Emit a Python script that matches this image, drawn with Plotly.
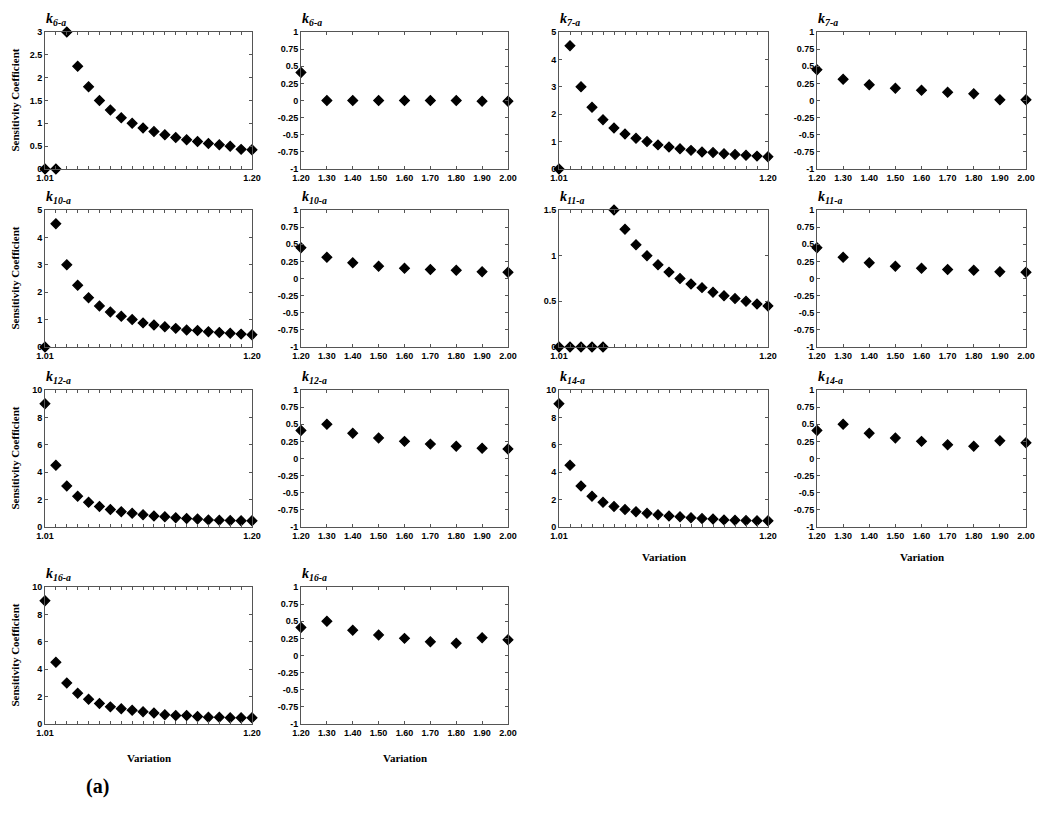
import plotly.graph_objects as go

W, H = 1050, 816
OFF = 8  # page body margin offset

x_left = [1.01, 1.02, 1.03, 1.04, 1.05, 1.06, 1.07, 1.08, 1.09, 1.10,
          1.11, 1.12, 1.13, 1.14, 1.15, 1.16, 1.17, 1.18, 1.19, 1.20]
x_right = [1.2, 1.3, 1.4, 1.5, 1.6, 1.7, 1.8, 1.9, 2.0]

k6_left = [0, 0, 3.0, 2.25, 1.8, 1.5, 1.29, 1.12, 1.0, 0.9,
           0.82, 0.75, 0.69, 0.64, 0.6, 0.56, 0.53, 0.5, 0.43, 0.42]
k6_right = [0.41, 0, 0, 0, 0, 0, 0, -0.01, -0.01]
k7_left = [0, 4.5, 3.0, 2.25, 1.8, 1.5, 1.28, 1.12, 1.0, 0.88,
           0.8, 0.74, 0.68, 0.62, 0.6, 0.56, 0.53, 0.5, 0.47, 0.45]
k7_right = [0.45, 0.31, 0.23, 0.18, 0.15, 0.12, 0.1, 0.01, 0.01]
k10_left = [0, 4.5, 3.0, 2.25, 1.8, 1.5, 1.28, 1.12, 1.0, 0.88,
            0.8, 0.74, 0.68, 0.62, 0.6, 0.56, 0.53, 0.5, 0.47, 0.45]
k10_right = [0.45, 0.31, 0.23, 0.18, 0.15, 0.13, 0.12, 0.1, 0.09]
k11_left = [0, 0, 0, 0, 0, 1.5, 1.29, 1.12, 1.0, 0.9,
            0.82, 0.75, 0.69, 0.65, 0.6, 0.56, 0.53, 0.5, 0.47, 0.45]
k11_right = [0.45, 0.31, 0.23, 0.18, 0.15, 0.13, 0.12, 0.1, 0.09]
k12_left = [9.0, 4.5, 3.0, 2.25, 1.8, 1.5, 1.28, 1.12, 1.0, 0.9,
            0.8, 0.75, 0.68, 0.62, 0.58, 0.52, 0.5, 0.47, 0.45, 0.45]
k12_right = [0.41, 0.5, 0.37, 0.3, 0.25, 0.21, 0.18, 0.15, 0.14]
k14_left = [9.0, 4.5, 3.0, 2.25, 1.8, 1.5, 1.28, 1.12, 1.0, 0.9,
            0.8, 0.75, 0.68, 0.62, 0.58, 0.52, 0.5, 0.47, 0.45, 0.45]
k14_right = [0.41, 0.5, 0.37, 0.3, 0.25, 0.2, 0.18, 0.26, 0.23]
k16_left = [9.0, 4.5, 3.0, 2.25, 1.8, 1.5, 1.25, 1.12, 1.0, 0.9,
            0.8, 0.68, 0.62, 0.62, 0.55, 0.5, 0.5, 0.45, 0.45, 0.45]
k16_right = [0.41, 0.5, 0.37, 0.3, 0.25, 0.2, 0.18, 0.26, 0.23]

panel_names = ["6", "6", "7", "7", "10", "10", "11", "11",
               "12", "12", "14", "14", "16", "16"]
panel_data = [k6_left, k6_right, k7_left, k7_right, k10_left, k10_right,
              k11_left, k11_right, k12_left, k12_right, k14_left, k14_right,
              k16_left, k16_right]
left_ranges = {"6": (3, 0.5), "7": (5, 1), "10": (5, 1), "11": (1.5, 0.5),
               "12": (10, 2), "14": (10, 2), "16": (10, 2)}

col_px = [(45, 252), (301, 508), (559, 768), (817, 1026)]
row_px = [(32, 169), (210, 347), (390, 527), (587, 724)]


def px_x(p):
    return (p - OFF) / W


def px_y(p):
    return 1 - (p - OFF) / H


fig = go.Figure()
tick_font = dict(family="Liberation Sans", size=9, color="black", weight="bold")
line_col = "#555555"
annotations = []

for i, (name, vals) in enumerate(zip(panel_names, panel_data)):
    r, c = divmod(i, 4)
    is_left = (i % 2 == 0)
    n = i + 1
    xa = "xaxis" if n == 1 else f"xaxis{n}"
    ya = "yaxis" if n == 1 else f"yaxis{n}"
    xref = "x" if n == 1 else f"x{n}"
    yref = "y" if n == 1 else f"y{n}"
    x0, x1 = col_px[c]
    y0, y1 = row_px[r]
    xs = x_left if is_left else x_right
    fig.add_trace(go.Scatter(
        x=xs, y=vals, mode="markers", xaxis=xref, yaxis=yref,
        marker=dict(symbol="diamond", size=7.5, color="black",
                    line=dict(color="black", width=1.2)),
        cliponaxis=False, showlegend=False))
    common = dict(showline=True, linecolor=line_col, linewidth=1, mirror="allticks",
                  ticks="inside", ticklen=3, tickcolor=line_col, showgrid=False,
                  zeroline=False, tickfont=tick_font, automargin=False)
    if is_left:
        fig.layout[xa] = dict(domain=[px_x(x0), px_x(x1)], anchor=yref, range=[1.01, 1.20],
                              tickvals=[1.01, 1.20], ticktext=["1.01", "1.20"],
                              minor=dict(tickvals=x_left, ticks="inside", ticklen=3,
                                         tickcolor=line_col),
                              **common)
        top, step = left_ranges[name]
        fig.layout[ya] = dict(domain=[px_y(y1), px_y(y0)], anchor=xref,
                              range=[0, top], dtick=step, tick0=0, **common)
    else:
        fig.layout[xa] = dict(domain=[px_x(x0), px_x(x1)], anchor=yref, range=[1.2, 2.0],
                              tickvals=x_right,
                              ticktext=[f"{v:.2f}" for v in x_right], **common)
        fig.layout[ya] = dict(domain=[px_y(y1), px_y(y0)], anchor=xref,
                              range=[-1, 1],
                              tickvals=[-1, -0.75, -0.5, -0.25, 0, 0.25, 0.5, 0.75, 1],
                              ticktext=["-1", "-0.75", "-0.5", "-0.25", "0", "0.25",
                                        "0.5", "0.75", "1"], **common)
    annotations.append(dict(
        x=px_x(x0 - 1), y=px_y(y0 - 2), xref="paper", yref="paper",
        xanchor="left", yanchor="bottom", showarrow=False,
        text=f"<b><i>k</i></b><sub><b><i>{name}-a</i></b></sub>",
        font=dict(family="Liberation Serif", size=14, color="black")))

ylab_font = dict(family="Liberation Serif", size=11, color="black", weight="bold")
for (y0, y1) in row_px:
    annotations.append(dict(x=px_x(14), y=px_y((y0 + y1) / 2), xref="paper", yref="paper",
                            text="Sensitivity Coefficient", textangle=-90, showarrow=False,
                            font=ylab_font, xanchor="center", yanchor="middle"))
for (c, ypx) in [(2, 557), (3, 557), (0, 758), (1, 758)]:
    x0, x1 = col_px[c]
    annotations.append(dict(x=px_x((x0 + x1) / 2), y=px_y(ypx), xref="paper", yref="paper",
                            text="Variation", showarrow=False, font=ylab_font,
                            xanchor="center", yanchor="middle"))
annotations.append(dict(x=px_x(97), y=px_y(786), xref="paper", yref="paper",
                        text="<b>(a)</b>", showarrow=False,
                        font=dict(family="Liberation Serif", size=20, color="black"),
                        xanchor="center", yanchor="middle"))

fig.update_layout(width=W, height=H, margin=dict(l=0, r=0, t=0, b=0),
                  paper_bgcolor="white", plot_bgcolor="white",
                  annotations=annotations)
fig.write_html("out.html")
